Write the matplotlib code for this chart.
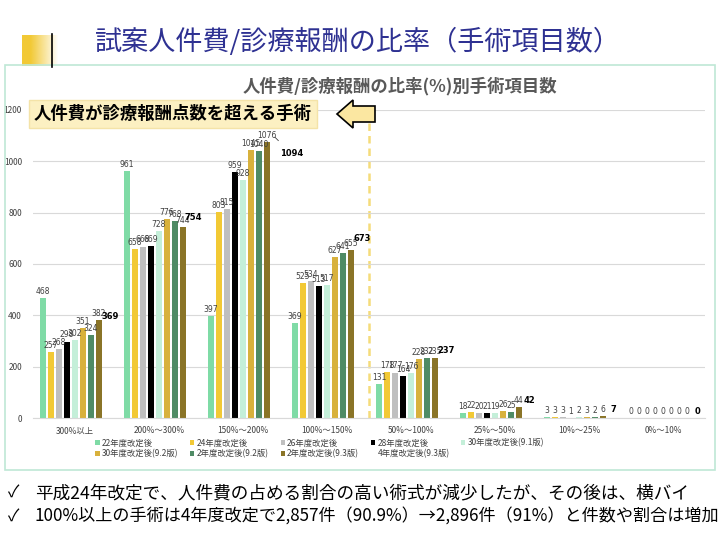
import matplotlib.pyplot as plt
import numpy as np
from matplotlib.patches import Rectangle, Polygon

plt.rcParams['font.family'] = ['Noto Sans CJK JP', 'DejaVu Sans']

categories = ["300%以上", "200%～300%", "150%～200%", "100%～150%",
              "50%～100%", "25%～50%", "10%～25%", "0%～10%"]

series_names = ["22年度改定後", "24年度改定後", "26年度改定後", "28年度改定後",
                "30年度改定後(9.1版)", "30年度改定後(9.2版)", "2年度改定後(9.2版)",
                "2年度改定後(9.3版)", "4年度改定後(9.3版)"]

v22 = [468, 961, 397, 369, 131, 18, 3, 0]
v24 = [257, 658, 803, 525, 178, 22, 3, 0]
v26 = [268, 668, 815, 534, 177, 20, 3, 0]
v28 = [298, 669, 959, 513, 164, 21, 1, 0]
v30_91 = [302, 728, 928, 517, 176, 19, 2, 0]
v30_92 = [351, 776, 1045, 627, 228, 26, 3, 0]
r2_92 = [324, 768, 1040, 641, 232, 25, 2, 0]
r2_93 = [382, 744, 1076, 655, 235, 44, 6, 0]
r4_93 = [369, 754, 1094, 673, 237, 42, 7, 0]

values = [v22, v24, v26, v28, v30_91, v30_92, r2_92, r2_93, r4_93]
colors = ["#7FDBA6", "#F2C935", "#BFBFBF", "#000000", "#C4EFD9",
          "#D8B13C", "#4F8B65", "#8A7427", "none"]

fig = plt.figure(figsize=(7.2, 5.4), dpi=100)

# slide decorations: yellow block fading to the right, black bar, chart frame
deco = fig.add_axes([22 / 720, 1 - 66 / 540, 42 / 720, 31 / 540])
grad = np.ones((2, 100, 4))
grad[..., :3] = np.array([242, 201, 53]) / 255
grad[..., 3] = np.clip(1.3 - np.linspace(0, 1, 100) * 1.5, 0, 1)
deco.imshow(grad, aspect="auto", extent=(0, 1, 0, 1))
deco.axis("off")
fig.lines.append(plt.Line2D([52 / 720, 52 / 720], [1 - 67 / 540, 1 - 34 / 540],
                            transform=fig.transFigure, color="black", lw=1.2))
fig.text(0.132, 0.922, "試案人件費/診療報酬の比率（手術項目数）", fontsize=19.5,
         color="#2E3192", va="center", ha="left")
fig.patches.append(Rectangle((5 / 720, 1 - 470 / 540), 710 / 720, 405 / 540,
                             transform=fig.transFigure, facecolor="none",
                             edgecolor="#BFE8D6", lw=1.2))

ax = fig.add_axes([33 / 720, 1 - 418 / 540, 672 / 720, 308 / 540])

x = np.arange(len(categories))
n = len(series_names)
slot = 0.095
bw = 0.075
handles = []
for i, (name, vals, c) in enumerate(zip(series_names, values, colors)):
    pos = x + (i - (n - 1) / 2) * slot
    b = ax.bar(pos, vals, bw, color=c, label=name, zorder=2)
    handles.append(b)
    for px, v in zip(pos, vals):
        if i == n - 1:
            if v > 1000:
                ax.annotate(str(v), (px, v), xytext=(12, -12), textcoords="offset points",
                            ha="center", va="center", fontsize=6, fontweight="bold",
                            color="black", family="DejaVu Sans",
                            arrowprops=dict(arrowstyle="-", color="#404040", lw=0.6,
                                            shrinkA=6, shrinkB=0))
            else:
                ax.annotate(str(v), (px, v), xytext=(2, 1.5), textcoords="offset points",
                            ha="center", va="bottom", fontsize=6, fontweight="bold",
                            color="black", family="DejaVu Sans")
        else:
            ax.annotate(str(v), (px, v), xytext=(0, 1.5), textcoords="offset points",
                        ha="center", va="bottom", fontsize=5.5, color="#404040",
                        family="DejaVu Sans")

ax.set_xlim(-0.5, len(categories) - 0.5)
ax.set_ylim(0, 1200)
ax.set_yticks(range(0, 1201, 200))
ax.set_xticks(x)
ax.set_xticklabels(categories, fontsize=6, color="#404040")
ax.tick_params(axis="y", labelsize=6, colors="#404040", length=0, pad=8)
ax.tick_params(axis="x", length=0, pad=6)
ax.grid(axis="y", color="#D9D9D9", lw=0.8, zorder=0)
for s in ["top", "right", "left"]:
    ax.spines[s].set_visible(False)
ax.spines["bottom"].set_color("#D9D9D9")

# dashed divider
ax.axvline(3.5, ymax=0.985, color="#F5DC7A", lw=1.8, ls=(0, (3, 2)), zorder=1)

fig.text(400 / 720, 1 - 86 / 540, "人件費/診療報酬の比率(%)別手術項目数", fontsize=12.5,
         fontweight="bold", color="#595959", ha="center", va="center")

# callout box and arrow
fig.text(34 / 720, 1 - 114 / 540, "人件費が診療報酬点数を超える手術", fontsize=12.5,
         fontweight="bold", va="center", ha="left",
         bbox=dict(boxstyle="square,pad=0.3", facecolor="#FCF0C2", edgecolor="#F4E3A8"))
arrow_px = [(337, 114), (353, 100), (353, 106), (375, 106),
            (375, 122), (353, 122), (353, 128)]
fig.patches.append(Polygon([(px / 720, 1 - py / 540) for px, py in arrow_px],
                           closed=True, transform=fig.transFigure,
                           facecolor="#FBE7A1", edgecolor="black", lw=1.2))

order = [0, 5, 1, 6, 2, 7, 3, 8, 4]
fig.legend([handles[k] for k in order], [series_names[k] for k in order],
           loc="upper left", bbox_to_anchor=(92 / 720, 1 - 435 / 540), ncol=5,
           fontsize=6, frameon=False, handlelength=0.5, handleheight=0.5,
           columnspacing=1.4, labelspacing=0.25, handletextpad=0.3,
           borderaxespad=0, labelcolor="#404040")

notes = ["平成24年改定で、人件費の占める割合の高い術式が減少したが、その後は、横バイ",
         "100%以上の手術は4年度改定で2,857件（90.9%）→2,896件（91%）と件数や割合は増加"]
for k, (t, yp) in enumerate(zip(notes, [493, 517])):
    fig.text(8 / 720, 1 - yp / 540, "✓", fontsize=12, va="center", ha="left")
    fig.text(35 / 720, 1 - yp / 540, t, fontsize=12.7 if k == 0 else 12.3,
             va="center", ha="left")

fig.savefig("out.png", dpi=100)
